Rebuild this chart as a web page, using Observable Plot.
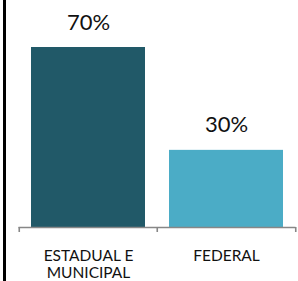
<!DOCTYPE html>
<html>
<head>
<meta charset="utf-8">
<script src="https://cdn.jsdelivr.net/npm/d3@7"></script>
<script src="https://cdn.jsdelivr.net/npm/@observablehq/plot@0.6"></script>
<style>
  html, body { margin: 0; padding: 0; background: #fff; }
  #wrap { position: relative; width: 298px; height: 281px; overflow: hidden; }
  #edge { position: absolute; left: 3px; top: 0; width: 3px; height: 281px; background: #000; }
  #chart { position: absolute; left: 0; top: 0; }
</style>
</head>
<body>
<div id="wrap"><div id="chart"></div><div id="edge"></div></div>
<script>
const categories = ["ESTADUAL E\nMUNICIPAL", "FEDERAL"];
const values = [70, 30];
const colors = ["#215968", "#4BACC6"];

const data = categories.map((c, i) => ({category: c, value: values[i], color: colors[i]}));

const W = 298, H = 281, mL = 18.5, mR = 2.5;
const half = (W - mL - mR) / categories.length / 2;

const chart = Plot.plot({
  width: W,
  height: H,
  marginLeft: mL,
  marginRight: mR,
  marginTop: 47,
  marginBottom: 54,
  style: {fontFamily: "Lato", background: "#fff", overflow: "visible"},
  x: {domain: categories, padding: 0, axis: null, label: null},
  y: {domain: [0, 70], axis: null},
  marks: [
    Plot.barY(data, {x: "category", y: "value", fill: "color", insetLeft: 12, insetRight: 12}),
    Plot.ruleY([0], {stroke: "#878787", strokeWidth: 1.6}),
    Plot.axisX(categories, {tickSize: 5, text: null, label: null, dx: -half, stroke: "#878787", strokeWidth: 1.6}),
    Plot.axisX(categories.slice(-1), {tickSize: 5, text: null, label: null, dx: half, stroke: "#878787", strokeWidth: 1.6}),
    Plot.axisX({tickSize: 0, tickPadding: 21, fontSize: 15.5, lineHeight: 1.1, fill: "#111", label: null}),
    Plot.text(data, {x: "category", y: "value", text: d => d.value + "%", lineAnchor: "bottom", dy: -18, fontSize: 22, fill: "#111"})
  ]
});
document.getElementById("chart").appendChild(chart);
</script>
</body>
</html>
